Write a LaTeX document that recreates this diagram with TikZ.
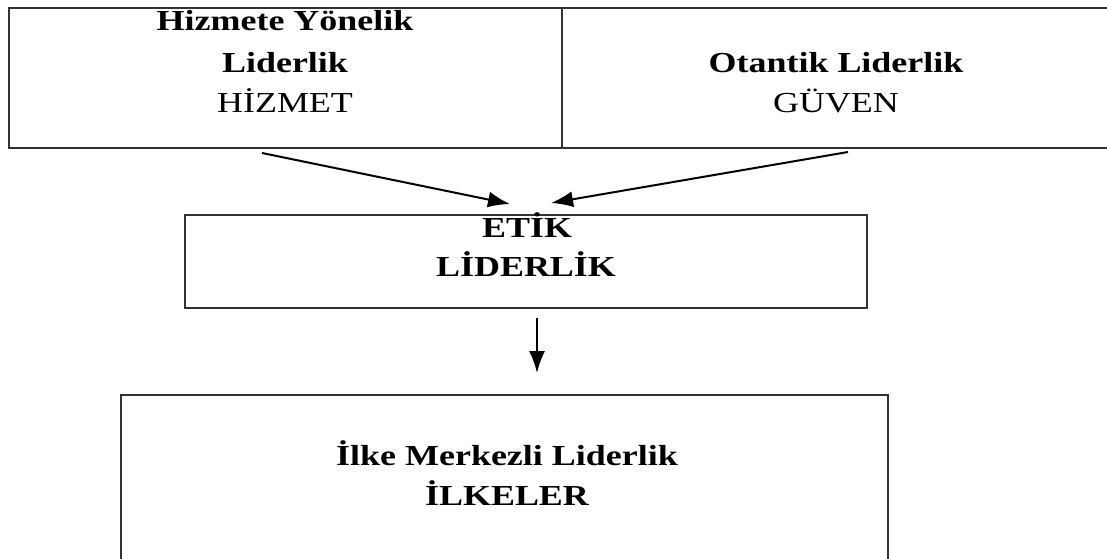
\documentclass[tikz,border=0pt]{standalone}
\usepackage{fontspec}
\setmainfont{Liberation Serif}
\usetikzlibrary{arrows.meta}

\tikzset{
  caixa/.style = {draw = black!80, line width = 1.8pt, inner sep = 0pt, anchor = north west},
  titol/.style = {font = \fontsize{29}{29}\selectfont\bfseries, xscale = 1.24, inner sep = 0pt, anchor = base},
  nom/.style = {font = \fontsize{29}{29}\selectfont, xscale = 1.24, inner sep = 0pt, anchor = base},
  fletxa/.style = {line width = 2pt, -{Latex[length = 22pt, width = 16pt]}}
}

\begin{document}
\begin{tikzpicture}[x = 1pt, y = 1pt]
	\useasboundingbox (0,0) rectangle (1107,-558);
	% caixes de dalt
	\node[caixa, minimum width = 553pt, minimum height = 140pt] (hizmet) at (8,-7) {};
	\node[caixa, minimum width = 553pt, minimum height = 140pt] (guven) at (561,-7) {};
	\node[titol] (hizmet1) at (285,-30) {Hizmete Yönelik};
	\node[titol] (hizmet2) at (285,-72) {Liderlik};
	\node[nom] (hizmet3) at (285,-112) {HİZMET};
	\node[titol] (guven1) at (836,-72) {Otantik Liderlik};
	\node[nom] (guven2) at (836,-112) {GÜVEN};
	% caixa del mig
	\node[caixa, minimum width = 682pt, minimum height = 93pt] (etik) at (184,-214) {};
	\node[titol] (etik1) at (527,-237) {ETİK};
	\node[titol] (etik2) at (526,-276) {LİDERLİK};
	% caixa de baix
	\node[caixa, minimum width = 767pt, minimum height = 220pt] (ilke) at (120,-394) {};
	\node[titol] (ilke1) at (507,-465) {İlke Merkezli Liderlik};
	\node[titol] (ilke2) at (507,-505) {İLKELER};
	% fletxes
	\coordinate (esq) at (262,-153);
	\coordinate (esqfi) at (510,-204);
	\coordinate (dre) at (848,-152);
	\coordinate (drefi) at (551,-203);
	\coordinate (baix) at (537,-318);
	\coordinate (baixfi) at (537,-373);
	\draw[fletxa] (esq) -- (esqfi);
	\draw[fletxa] (dre) -- (drefi);
	\draw[fletxa] (baix) -- (baixfi);
\end{tikzpicture}
\end{document}
